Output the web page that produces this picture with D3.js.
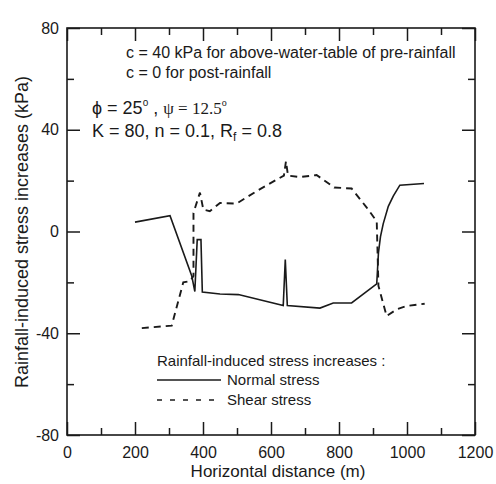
<!DOCTYPE html>
<html>
<head>
<meta charset="utf-8">
<script src="https://cdn.jsdelivr.net/npm/d3@7"></script>
<style>
  body { margin: 0; background: #fff; }
  svg text { font-family: Arial, "Liberation Sans", sans-serif; fill: #1a1a1a; }
  .axis path.domain { display: none; }
  .axis line { stroke: #1a1a1a; stroke-width: 1.5; }
</style>
</head>
<body>
<div id="chart"></div>
<script>
// values
var normalX = [200, 303, 367, 376, 383, 394, 398, 450, 504, 636, 642, 648, 744, 783, 837, 911, 916, 922, 930, 945, 960, 979, 1050];
var normalY = [3.7, 6.2, -17.5, -23.6, -3.2, -3.2, -23.8, -24.6, -24.8, -29.1, -11, -29.1, -30.1, -28.1, -28.1, -20.6, -8.4, -2, 3, 9.9, 14, 18.2, 18.9];

var shearX = [220, 308, 342, 362, 372, 372, 391, 401, 420, 450, 499, 563, 638, 644, 650, 685, 734, 786, 837, 881, 911, 916, 940, 970, 999, 1052];
var shearY = [-38, -37, -20, -19.5, -17.5, 7.3, 15.3, 8.6, 8, 11.2, 11, 16.3, 22, 27.6, 22, 21.4, 22.2, 17.3, 16.9, 9.5, 4, -21.4, -33.2, -30.6, -29.3, -28.4];

var xMajor = [0, 200, 400, 600, 800, 1000, 1200];
var xMinor = [100, 300, 500, 700, 900, 1100];
var yMajor = [-80, -40, 0, 40, 80];
var yMinor = [-60, -20, 20, 60];

var margin = { top: 28, left: 67 },
  width = 408,
  height = 407;

var svg = d3.select("#chart").append("svg")
  .attr("width", 496)
  .attr("height", 484);

var g = svg.append("g")
  .attr("transform", "translate(" + margin.left + "," + margin.top + ")");

var x = d3.scaleLinear().domain([0, 1200]).range([0, width]);
var y = d3.scaleLinear().domain([-80, 80]).range([height, 0]);

// plain hyphen for negatives, like the original
var plain = function(d) { return String(d); };

// axes, ticks pointing inward
function addAxis(axis, tx, ty, fontSize) {
  var a = g.append("g").attr("class", "axis")
    .attr("transform", "translate(" + tx + "," + ty + ")")
    .call(axis);
  a.selectAll("text").style("font-size", fontSize + "px").attr("fill", "#1a1a1a");
  return a;
}

addAxis(d3.axisBottom(x).tickValues(xMajor).tickSize(-13).tickPadding(12).tickFormat(plain), 0, height, 16);
addAxis(d3.axisBottom(x).tickValues(xMinor).tickSize(-7).tickFormat(""), 0, height, 16);
addAxis(d3.axisTop(x).tickValues(xMajor).tickSize(-13).tickFormat(""), 0, 0, 16);
addAxis(d3.axisTop(x).tickValues(xMinor).tickSize(-7).tickFormat(""), 0, 0, 16);

addAxis(d3.axisLeft(y).tickValues(yMajor).tickSize(-13).tickPadding(8).tickFormat(plain), 0, 0, 16);
addAxis(d3.axisLeft(y).tickValues(yMinor).tickSize(-7).tickFormat(""), 0, 0, 16);
addAxis(d3.axisRight(y).tickValues(yMajor).tickSize(-13).tickFormat(""), width, 0, 16);
addAxis(d3.axisRight(y).tickValues(yMinor).tickSize(-7).tickFormat(""), width, 0, 16);

g.append("rect")
  .attr("width", width)
  .attr("height", height)
  .attr("fill", "none")
  .attr("stroke", "#1a1a1a")
  .attr("stroke-width", 1.6);

// data lines
var line = d3.line()
  .x(function(d) { return x(d[0]); })
  .y(function(d) { return y(d[1]); });

g.append("path")
  .datum(d3.zip(normalX, normalY))
  .attr("d", line)
  .attr("fill", "none")
  .attr("stroke", "#1a1a1a")
  .attr("stroke-width", 1.6)
  .attr("stroke-linejoin", "miter");

g.append("path")
  .datum(d3.zip(shearX, shearY))
  .attr("d", line)
  .attr("fill", "none")
  .attr("stroke", "#1a1a1a")
  .attr("stroke-width", 1.9)
  .attr("stroke-dasharray", "7,5");

// axis titles
svg.append("text")
  .attr("x", 278)
  .attr("y", 477)
  .attr("text-anchor", "middle")
  .style("font-size", "17px")
  .text("Horizontal distance (m)");

svg.append("text")
  .attr("transform", "translate(28,232) rotate(-90)")
  .attr("text-anchor", "middle")
  .style("font-size", "18px")
  .text("Rainfall-induced stress increases (kPa)");

// annotations
svg.append("text").attr("x", 126).attr("y", 58).style("font-size", "16px")
  .text("c = 40 kPa for above-water-table of pre-rainfall");
svg.append("text").attr("x", 126).attr("y", 78).style("font-size", "16px")
  .text("c = 0 for post-rainfall");

var phi = svg.append("text").attr("x", 92).attr("y", 114).style("font-size", "18px");
phi.append("tspan").text("\u03d5 = 25");
phi.append("tspan").attr("dy", -8).style("font-size", "10px").text("o");
phi.append("tspan").attr("dy", 8).text(" , ");
phi.append("tspan").style("font-family", "'Liberation Serif', 'Times New Roman', serif")
  .style("font-size", "17px").text("\u03c8 = 12.5");
phi.append("tspan").attr("dy", -8).style("font-size", "10px")
  .style("font-family", "'Liberation Serif', serif").text("o");

var kt = svg.append("text").attr("x", 92).attr("y", 137).style("font-size", "18px");
kt.append("tspan").text("K = 80, n = 0.1, R");
kt.append("tspan").attr("dy", 4).style("font-size", "12px").text("f");
kt.append("tspan").attr("dy", -4).text(" = 0.8");

// legend
svg.append("text").attr("x", 157).attr("y", 366).style("font-size", "15px")
  .text("Rainfall-induced stress increases :");

svg.append("line")
  .attr("x1", 157).attr("x2", 221).attr("y1", 380).attr("y2", 380)
  .attr("stroke", "#1a1a1a").attr("stroke-width", 1.5);
svg.append("text").attr("x", 227).attr("y", 385).style("font-size", "15px")
  .text("Normal stress");

svg.append("line")
  .attr("x1", 157).attr("x2", 220).attr("y1", 400).attr("y2", 400)
  .attr("stroke", "#1a1a1a").attr("stroke-width", 1.5)
  .attr("stroke-dasharray", "5,8");
svg.append("text").attr("x", 227).attr("y", 405).style("font-size", "15px")
  .text("Shear stress");
</script>
</body>
</html>
